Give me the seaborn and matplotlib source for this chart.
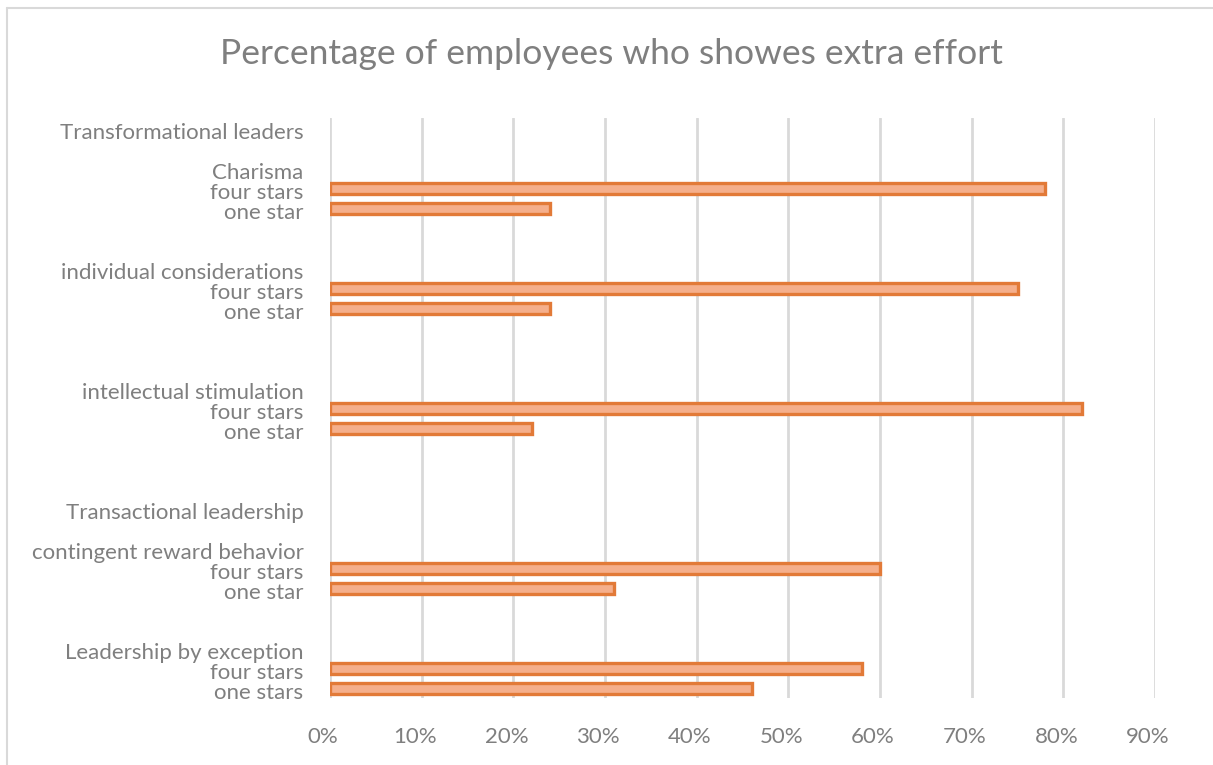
import matplotlib
matplotlib.use("Agg")
import matplotlib.pyplot as plt
import matplotlib.transforms as mtransforms
from matplotlib.lines import Line2D
from matplotlib.ticker import PercentFormatter
import seaborn as sns
import pandas as pd

# ---- data ----
row_labels = [
    "Transformational leaders", "",
    "Charisma", "four stars", "one star", "", "",
    "individual considerations", "four stars", "one star", "", "", "",
    "intellectual stimulation", "four stars", "one star", "", "", "",
    "Transactional leadership", "",
    "contingent reward behavior", "four stars", "one star", "", "",
    "Leadership by exception", "four stars", "one stars",
]
values = [
    None, None,
    None, 0.78, 0.24, None, None,
    None, 0.75, 0.24, None, None, None,
    None, 0.82, 0.22, None, None, None,
    None, None,
    None, 0.60, 0.31, None, None,
    None, 0.58, 0.46,
]
x_ticks = [0.0, 0.1, 0.2, 0.3, 0.4, 0.5, 0.6, 0.7, 0.8, 0.9]
title = "Percentage of employees who showes extra effort"

df = pd.DataFrame({"row": [f"r{i}" for i in range(len(row_labels))],
                   "label": row_labels,
                   "value": [v if v is not None else 0.0 for v in values]})

sns.set_theme(style="white")
plt.rcParams["font.family"] = ["Lato", "DejaVu Sans"]

W, H = 1213, 765
fig = plt.figure(figsize=(W / 100, H / 100), dpi=100)
left_px, right_px = 330, 1155
top_px, bot_px = 118, 698
ax = fig.add_axes([left_px / W, 1 - bot_px / H, (right_px - left_px) / W, (bot_px - top_px) / H])

fill = "#F5AF8C"
edge = "#E27A38"
sns.barplot(data=df, y="row", x="value", orient="h", ax=ax, color=fill,
            width=0.55, edgecolor=edge, linewidth=2.4, saturation=1)
# hide zero-width placeholder bars
for p, v in zip(ax.patches, values):
    if v is None:
        p.set_visible(False)

ax.set_xlim(0, 0.9)
ax.set_ylim(len(row_labels) - 0.5, -0.5)
ax.set_xticks(x_ticks)
ax.xaxis.set_major_formatter(PercentFormatter(1.0, decimals=0))
ax.set_yticks(range(len(row_labels)))
ax.set_yticklabels(row_labels)
ax.set_xlabel("")
ax.set_ylabel("")
ax.grid(axis="x", color="#D9D9D9", linewidth=2)
ax.set_axisbelow(True)
for s in ax.spines.values():
    s.set_visible(False)
ax.tick_params(axis="y", length=0, pad=19, labelsize=16, labelcolor="#7F7F7F")
ax.tick_params(axis="x", length=0, pad=21, labelsize=16, labelcolor="#7F7F7F")
offset = mtransforms.ScaledTranslation(0, -3 / 100, fig.dpi_scale_trans)
for lbl in ax.get_yticklabels():
    lbl.set_transform(lbl.get_transform() + offset)
offx = mtransforms.ScaledTranslation(-7 / 100, 0, fig.dpi_scale_trans)
for lbl in ax.get_xticklabels():
    lbl.set_transform(lbl.get_transform() + offx)

fig.text(611 / W, 1 - 54 / H, title, ha="center", va="center",
         fontsize=25.5, color="#7F7F7F")

# chart border (top and left visible)
fig.add_artist(Line2D([7 / W, 1.0], [1 - 8 / H, 1 - 8 / H], color="#D9D9D9", linewidth=1.5,
                      transform=fig.transFigure))
fig.add_artist(Line2D([7 / W, 7 / W], [1 - 8 / H, 0.0], color="#D9D9D9", linewidth=1.5,
                      transform=fig.transFigure))

fig.savefig("out.png", dpi=100, facecolor="white")
